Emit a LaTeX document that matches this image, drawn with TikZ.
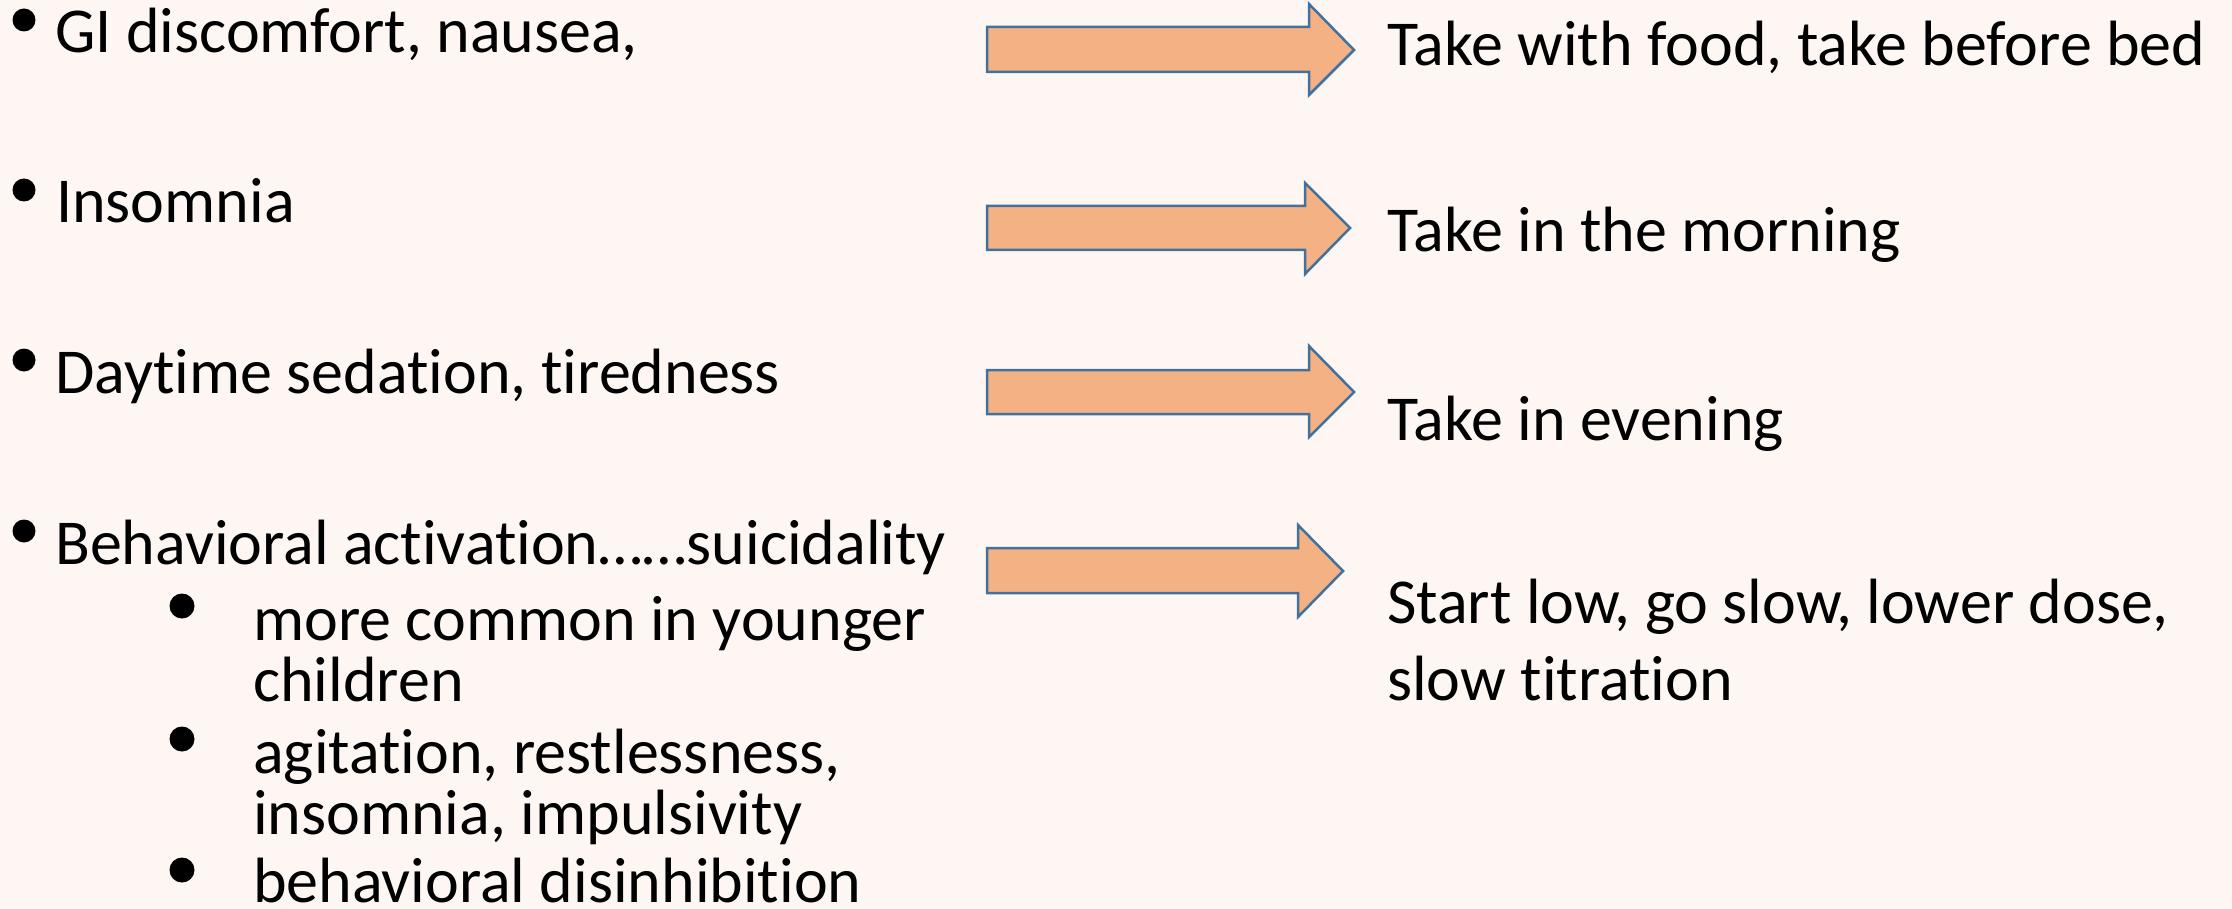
\documentclass[tikz,border=0pt]{standalone}
\usepackage{fontspec}
\setmainfont{Carlito}[Ligatures=NoCommon]
\definecolor{bg}{RGB}{254,246,243}
\definecolor{arrowfill}{HTML}{F4B183}
\definecolor{arrowline}{HTML}{41719C}
\newcommand{\blkarrow}[8]{% left, bodytop, bodybot, headx, headtop, headbot, tipx, tipy
  \draw[blockarrow] (#1,#2) -- (#4,#2) -- (#4,#5) -- (#7,#8) -- (#4,#6) -- (#4,#3) -- (#1,#3) -- cycle;}
\begin{document}
\begin{tikzpicture}[x=1pt,y=-1pt,
  txt/.style={anchor=base west, inner sep=0pt, font=\fontsize{64}{76}\selectfont},
  dot/.style={circle, fill=black, inner sep=0pt, minimum size=23pt},
  subdot/.style={circle, fill=black, inner sep=0pt, minimum size=25pt},
  blockarrow/.style={fill=arrowfill, draw=arrowline, line width=2.5pt, line join=miter}]
\fill[bg] (0,0) rectangle (2232,909);
\useasboundingbox (0,0) rectangle (2232,909);

% left column
\node[dot] (b1) at (24,20) {};
\node[txt] (t1) at (55,53) {GI discomfort, nausea,};
\node[dot] (b2) at (24,190) {};
\node[txt] (t2) at (56,223) {Insomnia};
\node[dot] (b3) at (24,360) {};
\node[txt] (t3) at (55,393) {Daytime sedation, tiredness};
\node[dot] (b4) at (24,531) {};
\node[txt] (t4) at (55,564) {Behavioral activation……suicidality};

\node[subdot] (s1) at (182,606) {};
\node[txt] (u1a) at (253,640) {more common in younger};
\node[txt] (u1b) at (253,701) {children};
\node[subdot] (s2) at (182,739) {};
\node[txt] (u2a) at (253,773) {agitation, restlessness,};
\node[txt] (u2b) at (253,834) {insomnia, impulsivity};
\node[subdot] (s3) at (182,870) {};
\node[txt] (u3) at (253,902) {behavioral disinhibition};

% arrows
\blkarrow{987}{27}{72}{1309}{4}{95}{1354}{50}
\blkarrow{987}{206}{250}{1305}{183}{274}{1350}{228}
\blkarrow{987}{370}{414}{1309}{346}{437}{1354}{392}
\blkarrow{987}{548}{593}{1298}{525}{617}{1343}{571}

% right column
\node[txt] (r1) at (1387,66) {Take with food, take before bed};
\node[txt] (r2) at (1387,252) {Take in the morning};
\node[txt] (r3) at (1387,440) {Take in evening};
\node[txt] (r4a) at (1387,623) {Start low, go slow, lower dose,};
\node[txt] (r4b) at (1387,700) {slow titration};
\end{tikzpicture}
\end{document}
